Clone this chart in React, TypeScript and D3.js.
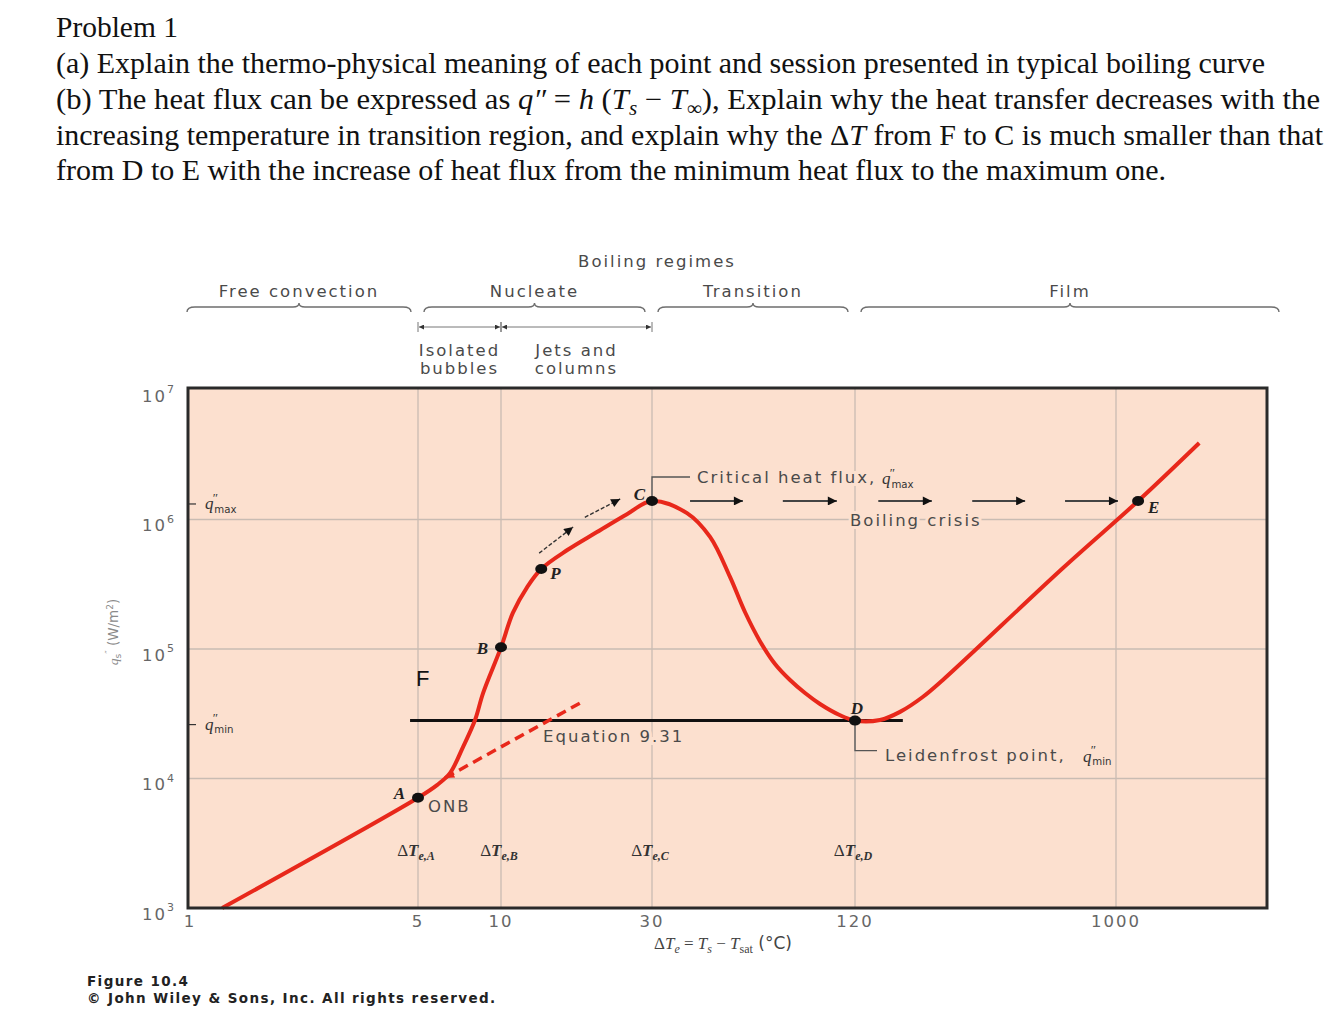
import * as d3 from "d3";

const W = 1336;
const H = 1012;
const plotLeft = 188;
const plotRight = 1267;
const plotTop = 388;
const plotBottom = 908;

// ΔTe (°C) and q''s (W/m²)
const curveT = [1.27, 5, 5.86, 6.53, 7.28, 8.05, 8.61, 10, 10.9, 12.1, 13.4, 16.2, 20.1, 25, 30, 38.1, 44.6, 51.1, 56.6, 62.7, 69.5, 77, 85.3, 94.5, 108, 120, 147, 173, 208, 245, 650, 1196, 1963];
const curveQ = [1000, 7.1e3, 8.9e3, 1.1e4, 1.75e4, 2.83e4, 4.57e4, 1.03e5, 1.9e5, 3.01e5, 4.15e5, 5.81e5, 8.0e5, 1.1e6, 1.39e6, 1.12e6, 7.33e5, 3.6e5, 1.93e5, 1.15e5, 7.66e4, 5.76e4, 4.57e4, 3.76e4, 3.09e4, 2.8e4, 2.83e4, 3.27e4, 4.26e4, 5.77e4, 4.22e5, 1.39e6, 3.9e6];

const pointNames = ["A", "B", "P", "C", "D", "E"];
const pointT = [5, 10, 13.4, 30, 120, 1196];
const pointQ = [7.1e3, 1.03e5, 4.15e5, 1.39e6, 2.8e4, 1.39e6];

const tickT = [1, 5, 10, 30, 120, 1000];
const tickExp = [3, 4, 5, 6, 7];
const gridT = [5, 10, 30, 120, 1000];
const gridQ = [1e4, 1e5, 1e6];

const deltaNames = ["A", "B", "C", "D"];
const deltaT = [5, 10, 30, 120];

const regimeNames = ["Free convection", "Nucleate", "Transition", "Film"];
const regimeBounds = [1, 5, 30, 120, 3400];
const subNames = [["Isolated", "bubbles"], ["Jets and", "columns"]];
const subBounds = [5, 10, 30];

const qMax = 1.39e6;
const qMin = 2.8e4;
const fLineT = [4.73, 177];
const eqT = [6.27, 17.8];
const eqQ = [1.01e4, 3.83e4];
const crisisArrows = [[38.9, 55.8], [73.3, 106], [145, 224], [311, 478], [661, 1016]];
const nucleateArrowT = [[13.2, 16.9], [18.4, 23.8]];
const nucleateArrowQ = [[5.5e5, 8.75e5], [1.04e6, 1.44e6]];

// label offsets from each marked point
const pointLabelPos = {
  A: [-13, -5, "end"],
  B: [-13, 1, "end"],
  P: [9, 4, "start"],
  C: [-7, -7, "end"],
  D: [2, -13, "middle"],
  E: [10, 6, "start"],
};

const sans = "DejaVu Sans";
const serif = "Liberation Serif";
const grey = "#4a4a4a";
const peach = "#fce0cf";
const red = "#e8281b";

const x = d3
  .scaleLog()
  .domain([1, 5, 10, 30, 120, 1000, 3400])
  .range([188, 418, 501, 652, 855, 1116, 1267]);
const y = d3.scaleLog().domain([1e3, 1e7]).range([908, 390]);

const QSym = ({ px, py, sub, size = 17 }) => (
  <g fill="#333">
    <text x={px} y={py} fontFamily={serif} fontStyle="italic" fontSize={size}>
      q
    </text>
    <text x={px + size * 0.45} y={py - size * 0.42} fontFamily={serif} fontSize={size * 0.75}>
      ″
    </text>
    <text x={px + size * 0.55} y={py + size * 0.22} fontFamily={sans} fontSize={size * 0.6}>
      {sub}
    </text>
  </g>
);

const brace = (x0, x1, by) => {
  const xm = (x0 + x1) / 2;
  return `M${x0},${by + 5} Q${x0},${by} ${x0 + 8},${by} L${xm - 6},${by} Q${xm},${by} ${xm},${by - 4} Q${xm},${by} ${xm + 6},${by} L${x1 - 8},${by} Q${x1},${by} ${x1},${by + 5}`;
};

export default function App() {
  const line = d3
    .line()
    .x((d) => x(d[0]))
    .y((d) => y(d[1]))
    .curve(d3.curveCatmullRom.alpha(0.5));
  const curvePts = curveT.map((t, i) => [t, curveQ[i]]);

  const titleStyle = { fontFamily: serif, fontSize: 29, fill: "#111" };

  return (
    <svg
      width={W}
      height={H}
      viewBox={`0 0 ${W} ${H}`}
      style={{ position: "absolute", left: 0, top: 0, background: "#fff" }}
    >
      <defs>
        <marker id="headBlack" viewBox="0 0 10 10" refX="10" refY="5" markerWidth="15" markerHeight="9" markerUnits="userSpaceOnUse" orient="auto-start-reverse">
          <path d="M0,0 L10,5 L0,10 z" fill="#111" />
        </marker>
        <marker id="headSmall" viewBox="0 0 10 10" refX="10" refY="5" markerWidth="8" markerHeight="5" markerUnits="userSpaceOnUse" orient="auto-start-reverse">
          <path d="M0,0 L10,5 L0,10 z" fill="#333" />
        </marker>
        <marker id="headRed" viewBox="0 0 10 10" refX="10" refY="5" markerWidth="12" markerHeight="9" markerUnits="userSpaceOnUse" orient="auto-start-reverse">
          <path d="M0,0 L10,5 L0,10 z" fill={red} />
        </marker>
      </defs>

      {/* problem text */}
      <g style={titleStyle}>
        <text x={56} y={37} textLength={122} lengthAdjust="spacingAndGlyphs">
          Problem 1
        </text>
        <text x={56} y={73} textLength={1209} lengthAdjust="spacingAndGlyphs">
          (a) Explain the thermo-physical meaning of each point and session presented in typical boiling curve
        </text>
        <text x={56} y={109} textLength={1264} lengthAdjust="spacingAndGlyphs">
          {"(b) The heat flux can be expressed as "}
          <tspan fontStyle="italic">q″</tspan>
          {" = "}
          <tspan fontStyle="italic">h</tspan>
          {" ("}
          <tspan fontStyle="italic">T</tspan>
          <tspan fontStyle="italic" fontSize={20} dy={6}>s</tspan>
          <tspan dy={-6}>{" − "}</tspan>
          <tspan fontStyle="italic">T</tspan>
          <tspan fontSize={20} dy={6}>∞</tspan>
          <tspan dy={-6}>{"), Explain why the heat transfer decreases with the"}</tspan>
        </text>
        <text x={56} y={145} textLength={1267} lengthAdjust="spacingAndGlyphs">
          {"increasing temperature in transition region, and explain why the Δ"}
          <tspan fontStyle="italic">T</tspan>
          {" from F to C is much smaller than that"}
        </text>
        <text x={56} y={180} textLength={1110} lengthAdjust="spacingAndGlyphs">
          from D to E with the increase of heat flux from the minimum heat flux to the maximum one.
        </text>
      </g>

      {/* regime headers */}
      <g fontFamily={sans} fontSize={16.5} letterSpacing={2} fill={grey} textAnchor="middle">
        <text x={657} y={267}>Boiling regimes</text>
        {regimeNames.map((name, i) => {
          const x0 = x(regimeBounds[i]) + (i === 0 ? -1 : 6);
          const x1 = x(regimeBounds[i + 1]) + (i === regimeNames.length - 1 ? 12 : -7);
          return (
            <g key={name}>
              <text x={(x0 + x1) / 2} y={297}>{name}</text>
              <path d={brace(x0, x1, 307)} fill="none" stroke="#6e6e6e" strokeWidth={1.4} />
            </g>
          );
        })}
        {subNames.map((lines, i) => {
          const x0 = x(subBounds[i]);
          const x1 = x(subBounds[i + 1]);
          return (
            <g key={lines[0]}>
              <line x1={x0 + 1} x2={x1 - 1} y1={327} y2={327} stroke="#777" strokeWidth={1} markerStart="url(#headSmall)" markerEnd="url(#headSmall)" />
              <line x1={x0} x2={x0} y1={322} y2={332} stroke="#777" strokeWidth={1} />
              <line x1={x1} x2={x1} y1={322} y2={332} stroke="#777" strokeWidth={1} />
              <text x={(x0 + x1) / 2} y={356}>{lines[0]}</text>
              <text x={(x0 + x1) / 2} y={374}>{lines[1]}</text>
            </g>
          );
        })}
      </g>

      {/* plot area */}
      <rect x={plotLeft} y={plotTop} width={plotRight - plotLeft} height={plotBottom - plotTop} fill={peach} />
      <g stroke="#c9bcb3" strokeWidth={1.3}>
        {gridT.map((t) => (
          <line key={t} x1={x(t)} x2={x(t)} y1={plotTop} y2={plotBottom} />
        ))}
        {gridQ.map((q) => (
          <line key={q} x1={plotLeft} x2={plotRight} y1={y(q)} y2={y(q)} />
        ))}
      </g>

      {/* q''max / q''min ticks */}
      <line x1={plotLeft} x2={plotLeft + 8} y1={y(qMax) + 3} y2={y(qMax) + 3} stroke="#333" strokeWidth={1.2} />
      <QSym px={205} py={y(qMax) + 8} sub="max" />
      <line x1={plotLeft} x2={plotLeft + 8} y1={y(qMin) + 4} y2={y(qMin) + 4} stroke="#333" strokeWidth={1.2} />
      <QSym px={205} py={y(qMin) + 9} sub="min" />

      {/* annotations inside plot */}
      <g fontFamily={sans} fontSize={16.5} letterSpacing={2} fill={grey} stroke={peach} strokeWidth={6} paintOrder="stroke">
        <text x={x(eqT[0]) + 98} y={y(qMin) + 21}>Equation 9.31</text>
        <text x={x(5) + 10} y={y(7.1e3) + 14}>ONB</text>
        <text x={850} y={y(1e6) + 6}>Boiling crisis</text>
        <text x={x(38.9) + 7} y={y(qMax) - 18}>Critical heat flux,</text>
        <text x={x(120) + 30} y={y(qMin) + 40}>Leidenfrost point,</text>
      </g>
      <QSym px={x(38.9) + 192} py={y(qMax) - 17} sub="max" />
      <QSym px={x(120) + 228} py={y(qMin) + 41} sub="min" />

      {/* callout leaders */}
      <path d={`M${x(30)},${y(qMax)} V${y(qMax) - 24} H${x(38.9)}`} fill="none" stroke="#555" strokeWidth={1.3} />
      <path d={`M${x(120)},${y(qMin)} V${y(qMin) + 30} H${x(120) + 22}`} fill="none" stroke="#555" strokeWidth={1.3} />

      {/* boiling crisis arrows */}
      {crisisArrows.map(([t0, t1]) => (
        <line key={t0} x1={x(t0)} x2={x(t1)} y1={y(qMax)} y2={y(qMax)} stroke="#444" strokeWidth={1.8} markerEnd="url(#headBlack)" />
      ))}

      {/* nucleate direction arrows */}
      {nucleateArrowT.map((ts, i) => (
        <line
          key={i}
          x1={x(ts[0])}
          y1={y(nucleateArrowQ[i][0])}
          x2={x(ts[1])}
          y2={y(nucleateArrowQ[i][1])}
          stroke="#333"
          strokeWidth={1.4}
          strokeDasharray="4 2"
          markerEnd="url(#headBlack)"
        />
      ))}

      {/* F line at q''min */}
      <line x1={x(fLineT[0])} x2={x(fLineT[1])} y1={y(qMin)} y2={y(qMin)} stroke="#111" strokeWidth={3} />
      <text x={x(5) - 2} y={y(qMin) - 35} fontFamily="Liberation Sans" fontSize={22} fill="#111">
        F
      </text>

      {/* Equation 9.31 dashed line */}
      <line
        x1={x(eqT[0])}
        y1={y(eqQ[0])}
        x2={x(eqT[1])}
        y2={y(eqQ[1])}
        stroke={red}
        strokeWidth={3.5}
        strokeDasharray="10 6"
        markerStart="url(#headRed)"
      />

      {/* boiling curve */}
      <path d={line(curvePts)} fill="none" stroke={red} strokeWidth={4} strokeLinejoin="round" />

      {/* points */}
      {pointNames.map((name, i) => {
        const px = x(pointT[i]);
        const py = y(pointQ[i]);
        const [dx, dy, anchor] = pointLabelPos[name];
        return (
          <g key={name}>
            <ellipse cx={px} cy={py} rx={6} ry={5} fill="#111" />
            <text
              x={px + dx}
              y={py + dy}
              dy="0.35em"
              textAnchor={anchor}
              fontFamily={serif}
              fontStyle="italic"
              fontWeight="bold"
              fontSize={17}
              fill="#222"
            >
              {name}
            </text>
          </g>
        );
      })}

      {/* ΔTe markers */}
      {deltaNames.map((name, i) => (
        <text key={name} x={x(deltaT[i]) - 2} y={856} textAnchor="middle" fontFamily={serif} fontSize={17} fill="#333">
          Δ<tspan fontStyle="italic" fontWeight="bold">T</tspan>
          <tspan fontStyle="italic" fontWeight="bold" fontSize={12} dy={4}>{`e,${name}`}</tspan>
        </text>
      ))}

      {/* frame */}
      <rect x={plotLeft} y={plotTop} width={plotRight - plotLeft} height={plotBottom - plotTop} fill="none" stroke="#2a2a2a" strokeWidth={3} />

      {/* axes labels */}
      <g fontFamily={sans} fill="#666" fontSize={16.5} letterSpacing={2}>
        {tickExp.map((e) => (
          <text key={e} x={142} y={y(10 ** e) + 7} dominantBaseline="middle">
            10<tspan fontSize={11} dy={-7}>{e}</tspan>
          </text>
        ))}
        {tickT.map((t) => (
          <text key={t} x={x(t) + (t === 1 ? 2 : 0)} y={927} textAnchor="middle">
            {t}
          </text>
        ))}
      </g>
      <text x={723} y={949} textAnchor="middle" fontFamily={serif} fontSize={17} fill="#444">
        Δ<tspan fontStyle="italic">T</tspan>
        <tspan fontStyle="italic" fontSize={12} dy={4}>e</tspan>
        <tspan dy={-4}>{" = "}</tspan>
        <tspan fontStyle="italic">T</tspan>
        <tspan fontStyle="italic" fontSize={12} dy={4}>s</tspan>
        <tspan dy={-4}>{" − "}</tspan>
        <tspan fontStyle="italic">T</tspan>
        <tspan fontSize={12} dy={4}>sat</tspan>
        <tspan dy={-4} fontFamily={sans}>{" (°C)"}</tspan>
      </text>
      <text
        transform="translate(118,632) rotate(-90)"
        textAnchor="middle"
        fontFamily={sans}
        fontSize={13.5}
        fill="#8a8a8a"
      >
        <tspan fontFamily={serif} fontStyle="italic">q</tspan>
        <tspan fontSize={9} dy={3}>s</tspan>
        <tspan fontSize={9} dy={-9}>″</tspan>
        <tspan dy={6}>{" (W/m"}</tspan>
        <tspan fontSize={9} dy={-5}>2</tspan>
        <tspan dy={5}>)</tspan>
      </text>

      {/* caption */}
      <g fontFamily={sans} fontWeight="bold" fontSize={13.5} letterSpacing={1.4} fill="#222">
        <text x={87} y={986}>Figure 10.4</text>
        <text x={87} y={1003}>© John Wiley &amp; Sons, Inc. All rights reserved.</text>
      </g>
    </svg>
  );
}
